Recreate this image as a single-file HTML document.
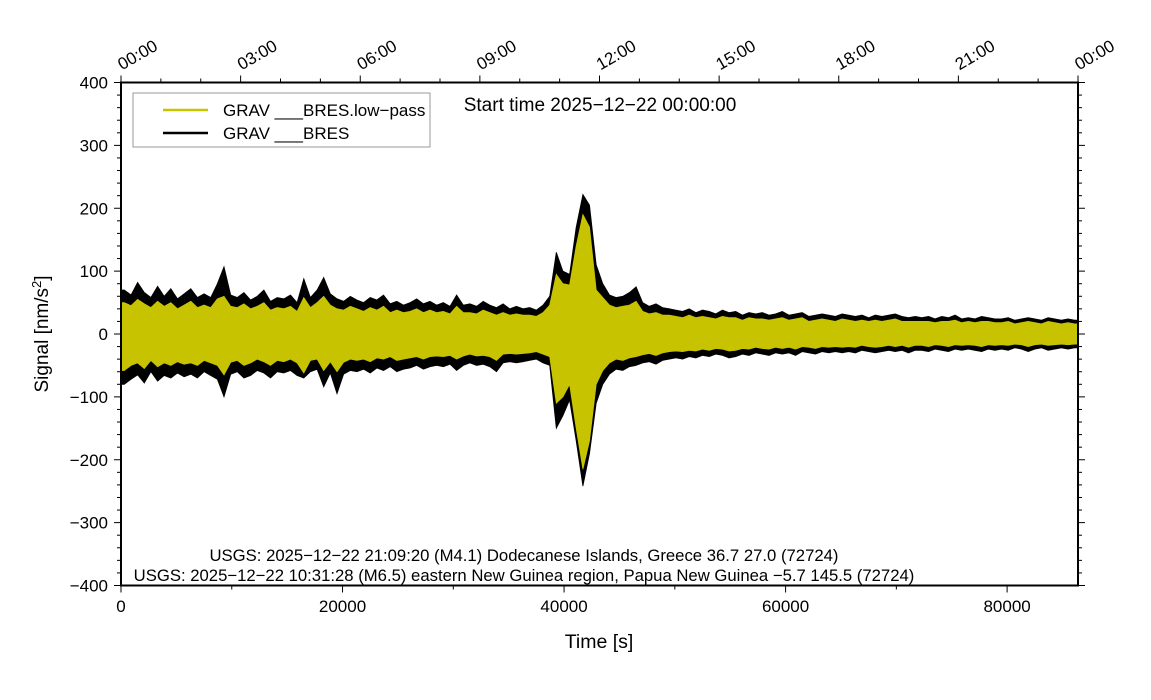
<!DOCTYPE html>
<html><head><meta charset="utf-8"><style>
body{margin:0;background:#fff}
svg{display:block;font-family:"Liberation Sans",sans-serif}
</style></head><body>
<svg id="chart" width="1151" height="700" viewBox="0 0 1151 700">
<g id="marks"></g>
<g id="axes"></g>
<rect x="133" y="93" width="297" height="54" fill="#fff" stroke="#999" stroke-width="1"/>
<line x1="163" y1="110" x2="208" y2="110" stroke="#c8c300" stroke-width="2.5"/>
<text x="223" y="116" font-size="17">GRAV ___BRES.low−pass</text>
<line x1="163" y1="133" x2="208" y2="133" stroke="#000" stroke-width="2.5"/>
<text x="223" y="139" font-size="17">GRAV ___BRES</text>
<text x="600" y="111" font-size="19" text-anchor="middle">Start time 2025−12−22 00:00:00</text>
<text x="524" y="561" font-size="16.7" text-anchor="middle">USGS: 2025−12−22 21:09:20 (M4.1) Dodecanese Islands, Greece 36.7 27.0 (72724)</text>
<text x="524" y="581" font-size="16.7" text-anchor="middle">USGS: 2025−12−22 10:31:28 (M6.5) eastern New Guinea region, Papua New Guinea −5.7 145.5 (72724)</text>
<text x="599" y="648" font-size="19.5" text-anchor="middle">Time [s]</text>
<text transform="translate(48,334) rotate(-90)" font-size="19" text-anchor="middle">Signal [nm/s<tspan font-size="13" dy="-7">2</tspan><tspan dy="7">]</tspan></text>
</svg>
<script>
const binSeconds = 600;
const rawMax = [70,62,82,66,58,76,60,72,56,64,72,58, 64,58,80,107,62,58,66,54,60,70,52,58, 56,62,50,88,58,70,90,64,56,52,60,54, 50,58,54,62,48,52,46,50,56,48,52,46, 50,44,62,46,48,44,52,46,42,48,40,44, 40,42,38,46,60,130,100,95,170,222,205,110, 80,62,58,60,66,75,50,44,48,42,40,38, 36,40,34,38,36,32,38,34,36,30,34,32, 34,30,32,36,30,32,34,28,30,32,30,28, 32,30,28,30,26,30,28,30,32,28,26,28, 26,28,24,28,26,30,24,26,24,28,26,24, 24,26,22,24,26,24,22,26,24,22,24,22];
const rawMin = [-80,-72,-65,-78,-60,-75,-66,-70,-62,-68,-64,-70, -60,-66,-72,-100,-64,-60,-70,-66,-58,-62,-70,-60, -62,-58,-66,-70,-60,-56,-84,-62,-95,-64,-58,-60, -56,-62,-54,-58,-52,-60,-56,-54,-50,-56,-52,-50, -52,-48,-58,-50,-46,-50,-48,-52,-60,-46,-44,-46, -44,-42,-40,-46,-50,-150,-130,-105,-170,-242,-190,-110, -80,-64,-56,-58,-52,-50,-46,-44,-48,-42,-40,-38, -40,-36,-38,-34,-36,-32,-34,-38,-36,-32,-34,-30, -32,-34,-30,-32,-30,-34,-28,-30,-32,-28,-30,-28, -30,-28,-30,-26,-28,-30,-28,-26,-28,-26,-30,-26, -26,-28,-24,-26,-28,-24,-26,-24,-26,-28,-24,-26, -24,-26,-22,-24,-28,-24,-22,-26,-24,-22,-24,-22];
const lowMax = [50,45,55,48,42,52,44,50,40,46,52,42, 46,42,56,60,44,42,48,40,44,50,38,42, 40,44,36,58,42,50,60,46,40,38,44,40, 36,42,38,44,34,38,34,36,40,34,38,34, 36,32,44,34,34,32,38,34,30,34,30,32, 30,30,28,34,46,95,80,78,140,190,170,70, 58,46,42,44,46,52,36,32,34,30,30,28, 26,30,26,28,26,24,28,26,26,22,26,24, 24,22,24,26,22,24,26,20,22,24,22,20, 24,22,20,22,20,22,20,22,24,20,20,20, 20,20,18,20,20,22,18,20,18,20,20,18, 18,20,16,18,20,18,16,20,18,16,18,16];
const lowMin = [-58,-50,-46,-55,-42,-52,-46,-50,-44,-48,-46,-50, -42,-46,-50,-65,-45,-42,-50,-46,-40,-44,-50,-42, -44,-40,-46,-62,-42,-40,-58,-44,-60,-45,-40,-42, -40,-44,-38,-40,-36,-42,-40,-38,-36,-40,-36,-35, -36,-34,-40,-35,-32,-35,-34,-36,-42,-32,-31,-32, -31,-30,-28,-32,-36,-110,-100,-80,-150,-215,-170,-80, -58,-46,-40,-42,-38,-36,-33,-31,-34,-30,-28,-27, -28,-26,-27,-24,-26,-23,-24,-27,-26,-23,-24,-21, -23,-24,-21,-23,-21,-24,-20,-21,-23,-20,-21,-20, -21,-20,-21,-18,-20,-21,-20,-18,-20,-18,-21,-18, -18,-20,-17,-18,-20,-17,-18,-17,-18,-20,-17,-18, -17,-18,-16,-17,-20,-17,-16,-18,-17,-16,-17,-16];
const xTicks = [0,20000,40000,60000,80000];
const yTicks = [-400,-300,-200,-100,0,100,200,300,400];
const topLabels = ["00:00","03:00","06:00","09:00","12:00","15:00","18:00","21:00","00:00"];

const X0=121,X1=1078,Y0=82.5,Y1=585.5;
const xs = s => X0 + s/86400*(X1-X0);
const ys = v => Y1 - (v+400)/800*(Y1-Y0);
const NS="http://www.w3.org/2000/svg";
function mk(tag,attrs,parent){const e=document.createElementNS(NS,tag);for(const k in attrs)e.setAttribute(k,attrs[k]);parent.appendChild(e);return e;}
const marks=document.getElementById('marks'), axes=document.getElementById('axes');

function envelope(maxArr,minArr,color,name){
  const n=maxArr.length;
  const g=mk('g',{},marks);
  
  
  let d='M'+xs(0).toFixed(1)+' '+ys(maxArr[0]).toFixed(1);
  for(let i=0;i<n;i++){
    const xm=xs((i+0.5)*binSeconds);
    d+='L'+xm.toFixed(1)+' '+ys(maxArr[i]).toFixed(1);
  }
  d+='L'+xs(n*binSeconds).toFixed(1)+' '+ys(maxArr[n-1]).toFixed(1);
  d+='L'+xs(n*binSeconds).toFixed(1)+' '+ys(minArr[n-1]).toFixed(1);
  for(let i=n-1;i>=0;i--){
    const xm=xs((i+0.5)*binSeconds);
    d+='L'+xm.toFixed(1)+' '+ys(minArr[i]).toFixed(1);
  }
  d+='L'+xs(0).toFixed(1)+' '+ys(minArr[0]).toFixed(1);
  const p=mk('path',{d:d+'Z',fill:color,stroke:color,'stroke-width':0.8},g);
  
  
}
envelope(rawMax,rawMin,'#000','series-raw');
envelope(lowMax,lowMin,'#c8c300','series-lowpass');

const fr=mk('rect',{x:X0,y:Y0,width:X1-X0,height:Y1-Y0,fill:'none',stroke:'#000','stroke-width':2},axes);


for(let v=-400;v<=400;v+=20){
  const major=v%100===0, L=major?7:4;
  mk('line',{x1:X0-L,x2:X0,y1:ys(v),y2:ys(v),stroke:'#000','stroke-width':1},axes);
  mk('line',{x1:X1,x2:X1+L,y1:ys(v),y2:ys(v),stroke:'#000','stroke-width':1},axes);
}
yTicks.forEach(v=>{
  const t=mk('text',{x:X0-13,y:ys(v)+6,'font-size':17,'text-anchor':'end'},axes);
  t.textContent=v<0?'−'+(-v):String(v);
  
  
});
for(let s=0;s<=86400;s+=10000){
  const major=s%20000===0;
  mk('line',{x1:xs(s),x2:xs(s),y1:Y1,y2:Y1+(major?7:4),stroke:'#000','stroke-width':1},axes);
}
xTicks.forEach(s=>{
  const t=mk('text',{x:xs(s),y:612,'font-size':17,'text-anchor':'middle'},axes);
  t.textContent=String(s);
  
  
});
for(let h=0;h<=24;h++){
  const major=h%3===0;
  mk('line',{x1:xs(h*3600),x2:xs(h*3600),y1:Y0-(major?7:4),y2:Y0,stroke:'#000','stroke-width':1},axes);
}
topLabels.forEach((lab,i)=>{
  const x=xs(i*10800);
  const t=mk('text',{transform:`translate(${x+1},${Y0-12}) rotate(-30)`,'font-size':17},axes);
  t.textContent=lab;
  
  
});
</script>
</body></html>
